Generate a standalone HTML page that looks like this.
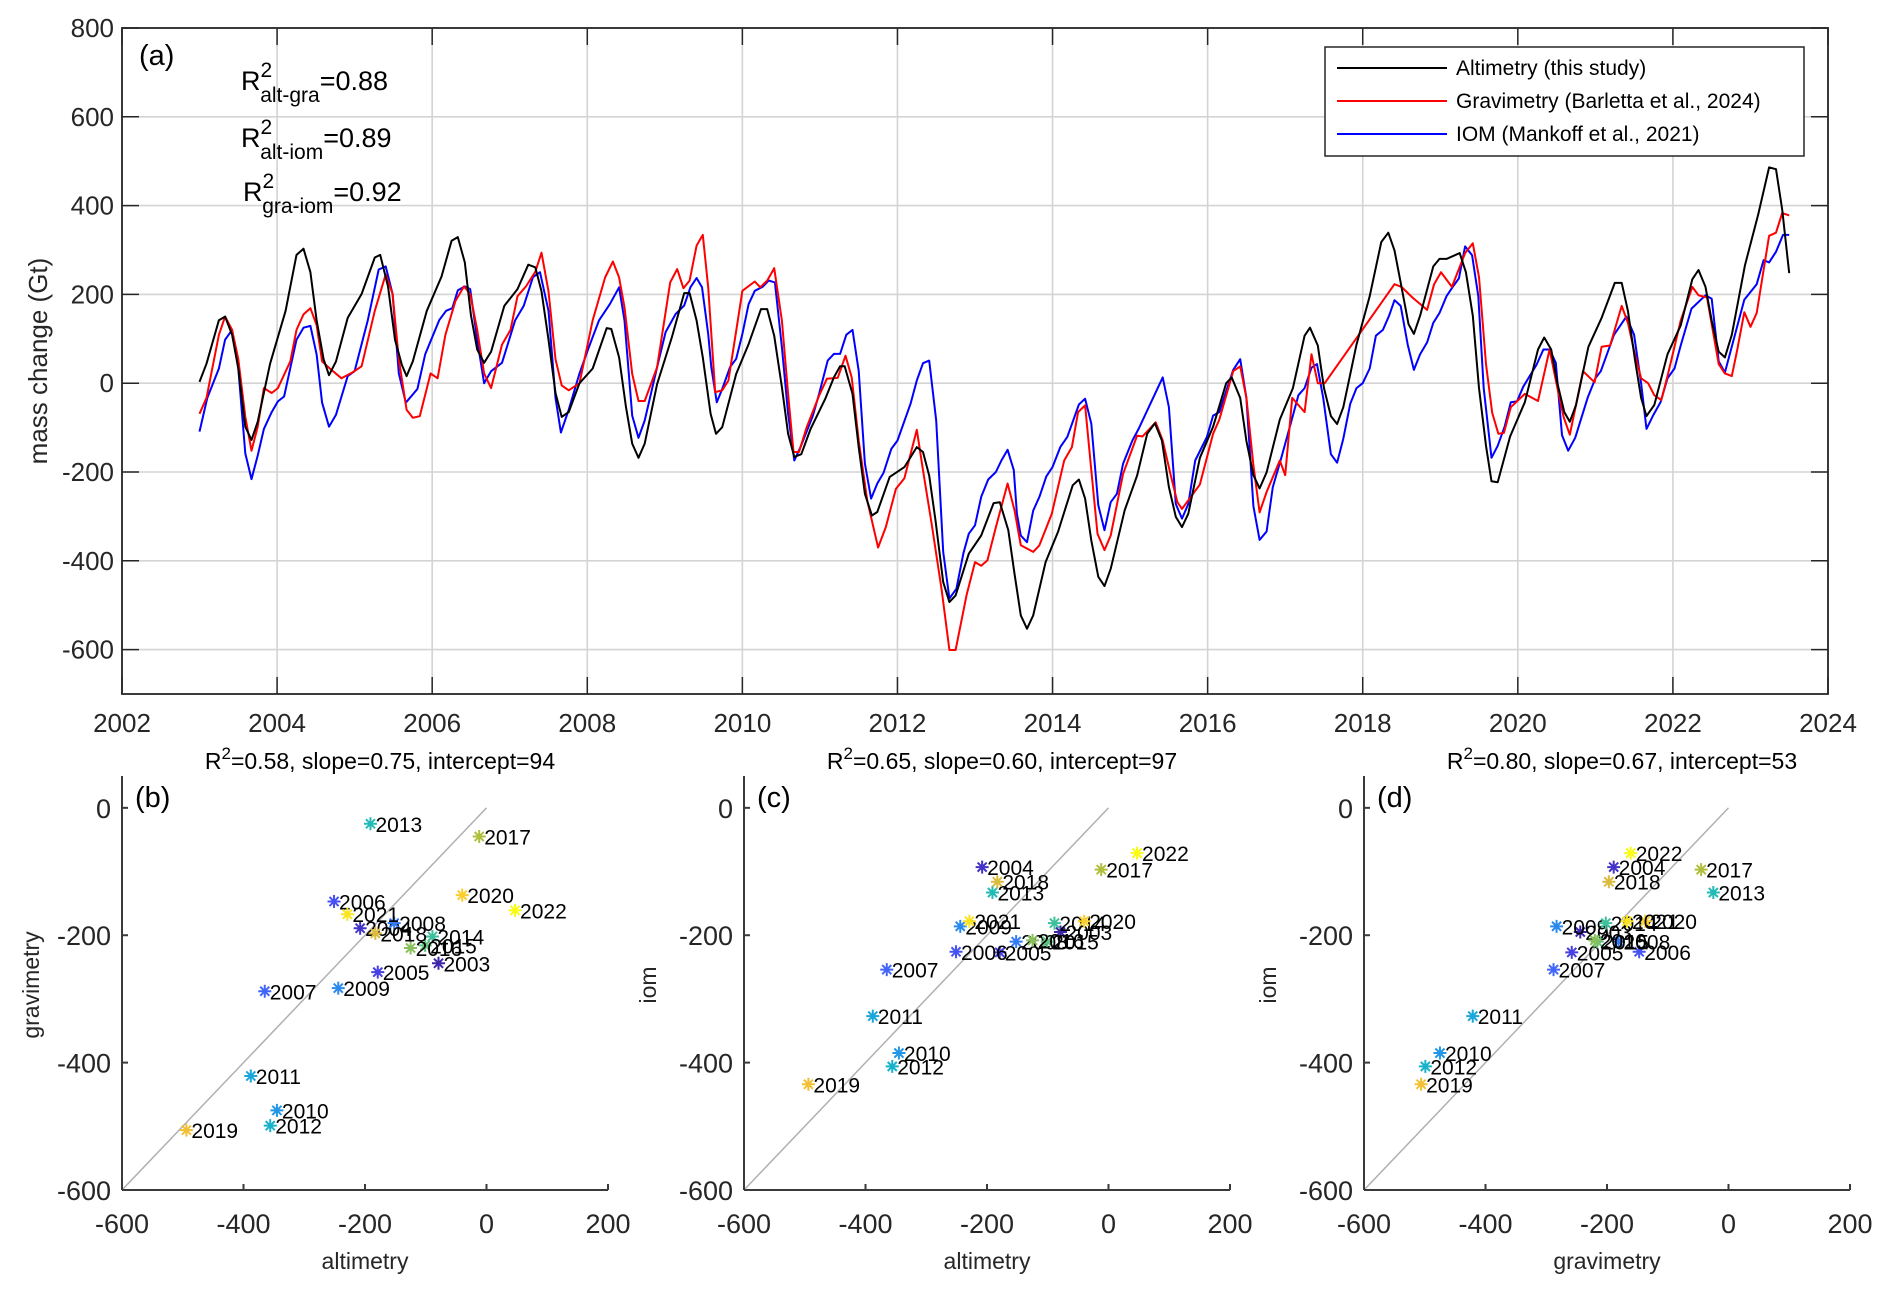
<!DOCTYPE html>
<html><head><meta charset="utf-8"><style>
html,body{margin:0;padding:0;background:#fff;}
svg{display:block;font-family:"Liberation Sans",Arial,sans-serif;}
</style></head><body>
<svg id="fig" width="1892" height="1293" viewBox="0 0 1892 1293" xmlns="http://www.w3.org/2000/svg"></svg>
<script>
// ---- time series data (year, Gt) ----
const altT=[2003.0,2003.09,2003.25,2003.33,2003.42,2003.5,2003.59,2003.67,2003.75,2003.91,2004.11,2004.25,2004.34,2004.43,2004.51,2004.6,2004.67,2004.76,2004.91,2005.09,2005.26,2005.33,2005.43,2005.52,2005.61,2005.67,2005.75,2005.93,2006.12,2006.25,2006.33,2006.42,2006.5,2006.58,2006.67,2006.76,2006.93,2007.1,2007.24,2007.33,2007.41,2007.5,2007.59,2007.67,2007.76,2007.9,2008.07,2008.25,2008.31,2008.41,2008.5,2008.58,2008.66,2008.74,2008.9,2009.09,2009.25,2009.32,2009.41,2009.49,2009.59,2009.66,2009.74,2009.92,2010.08,2010.24,2010.32,2010.41,2010.51,2010.59,2010.67,2010.76,2010.88,2011.07,2011.18,2011.26,2011.32,2011.42,2011.5,2011.58,2011.67,2011.74,2011.9,2012.09,2012.25,2012.33,2012.41,2012.49,2012.59,2012.67,2012.75,2012.92,2013.08,2013.24,2013.32,2013.43,2013.51,2013.59,2013.67,2013.75,2013.91,2014.07,2014.26,2014.34,2014.42,2014.5,2014.59,2014.67,2014.75,2014.93,2015.09,2015.22,2015.32,2015.41,2015.5,2015.59,2015.67,2015.75,2015.9,2016.07,2016.24,2016.31,2016.42,2016.5,2016.59,2016.67,2016.76,2016.93,2017.1,2017.25,2017.32,2017.42,2017.5,2017.59,2017.67,2017.75,2017.92,2018.09,2018.24,2018.33,2018.41,2018.5,2018.59,2018.66,2018.74,2018.91,2018.99,2019.08,2019.25,2019.33,2019.42,2019.5,2019.59,2019.66,2019.74,2019.9,2020.09,2020.26,2020.34,2020.43,2020.51,2020.6,2020.67,2020.75,2020.91,2021.08,2021.25,2021.34,2021.42,2021.51,2021.59,2021.66,2021.76,2021.93,2022.1,2022.25,2022.33,2022.42,2022.5,2022.59,2022.67,2022.76,2022.93,2023.1,2023.24,2023.33,2023.41,2023.5];
const altV=[3,44,142,150,109,33,-98,-128,-87,44,163,289,303,250,142,54,18,49,147,201,283,289,218,98,41,16,49,163,240,321,329,272,152,76,46,71,174,212,267,261,207,98,-22,-76,-65,0,33,124,122,58,-54,-136,-168,-136,-2,103,203,203,141,58,-69,-114,-99,21,88,167,167,107,-9,-114,-166,-160,-103,-35,13,38,38,-24,-144,-249,-298,-290,-211,-189,-144,-155,-208,-309,-448,-493,-478,-384,-343,-270,-268,-331,-429,-523,-553,-523,-403,-335,-230,-217,-260,-354,-436,-457,-418,-286,-208,-114,-90,-129,-234,-301,-324,-294,-168,-98,0,13,-33,-130,-207,-237,-201,-82,-11,107,125,85,-11,-74,-92,-54,87,196,318,339,299,217,133,111,152,263,280,280,293,250,152,-11,-141,-221,-223,-120,-43,76,103,76,0,-65,-87,-49,82,147,226,226,163,54,-33,-74,-49,65,130,234,255,217,141,71,58,109,266,380,486,482,391,248];
const graT=[2003.0,2003.09,2003.25,2003.33,2003.42,2003.5,2003.59,2003.67,2003.75,2003.83,2003.93,2004.01,2004.17,2004.25,2004.34,2004.43,2004.51,2004.58,2004.68,2004.83,2004.97,2005.09,2005.26,2005.4,2005.49,2005.57,2005.67,2005.75,2005.84,2005.98,2006.07,2006.17,2006.3,2006.41,2006.49,2006.58,2006.67,2006.76,2006.9,2007.01,2007.1,2007.21,2007.33,2007.41,2007.5,2007.59,2007.67,2007.76,2007.9,2008.07,2008.23,2008.33,2008.41,2008.48,2008.58,2008.66,2008.74,2008.9,2009.07,2009.16,2009.24,2009.32,2009.41,2009.49,2009.56,2009.65,2009.74,2009.82,2009.92,2010.0,2010.16,2010.23,2010.32,2010.41,2010.51,2010.59,2010.66,2010.73,2010.83,2010.99,2011.09,2011.23,2011.33,2011.41,2011.5,2011.61,2011.75,2011.85,2011.98,2012.09,2012.25,2012.33,2012.44,2012.57,2012.67,2012.75,2012.89,2013.0,2013.08,2013.16,2013.27,2013.42,2013.51,2013.59,2013.75,2013.83,2013.99,2014.15,2014.25,2014.33,2014.42,2014.5,2014.58,2014.67,2014.75,2014.91,2015.09,2015.16,2015.33,2015.42,2015.52,2015.61,2015.67,2015.75,2015.9,2016.07,2016.15,2016.33,2016.42,2016.5,2016.59,2016.67,2016.76,2016.93,2017.0,2017.09,2017.25,2017.34,2017.42,2017.51,2018.41,2018.5,2018.64,2018.83,2018.92,2019.01,2019.15,2019.32,2019.42,2019.5,2019.59,2019.67,2019.75,2019.82,2019.91,2020.09,2020.26,2020.41,2020.51,2020.59,2020.67,2020.75,2020.84,2020.99,2021.08,2021.19,2021.34,2021.42,2021.51,2021.59,2021.68,2021.76,2021.85,2021.93,2022.1,2022.25,2022.33,2022.44,2022.59,2022.67,2022.76,2022.83,2022.92,2023.0,2023.08,2023.24,2023.33,2023.41,2023.5];
const graV=[-69,-33,109,150,120,54,-76,-152,-98,-11,-22,-11,49,120,155,169,131,49,33,11,24,38,163,245,201,54,-60,-78,-74,22,11,109,185,218,201,120,22,-11,87,120,196,218,251,294,207,54,-5,-16,0,142,238,274,238,171,21,-40,-40,36,227,257,214,231,310,334,216,-20,-16,6,118,208,229,216,231,259,141,-24,-155,-155,-99,-28,10,12,62,13,-129,-264,-370,-324,-238,-214,-105,-196,-316,-466,-601,-601,-478,-403,-411,-399,-324,-226,-286,-365,-380,-365,-294,-174,-144,-65,-50,-196,-339,-376,-343,-204,-118,-120,-88,-129,-204,-268,-283,-264,-228,-114,-82,27,38,-33,-185,-291,-245,-174,-207,-33,-65,65,0,0,223,217,193,165,223,250,217,293,315,239,43,-67,-114,-112,-54,-24,-40,76,-11,-76,-116,-49,27,2,82,85,174,136,65,11,0,-27,-38,16,141,217,198,193,43,22,16,76,160,127,158,332,339,383,378];
const iomT=[2003.0,2003.1,2003.25,2003.33,2003.42,2003.5,2003.59,2003.67,2003.75,2003.83,2003.93,2004.01,2004.09,2004.25,2004.34,2004.43,2004.51,2004.58,2004.67,2004.76,2004.91,2005.0,2005.17,2005.31,2005.4,2005.49,2005.57,2005.66,2005.81,2005.91,2006.09,2006.18,2006.26,2006.33,2006.42,2006.49,2006.58,2006.67,2006.76,2006.9,2007.07,2007.18,2007.3,2007.39,2007.5,2007.59,2007.66,2007.76,2007.9,2008.01,2008.15,2008.29,2008.41,2008.48,2008.58,2008.66,2008.74,2008.9,2009.01,2009.14,2009.25,2009.33,2009.41,2009.48,2009.56,2009.6,2009.67,2009.74,2009.84,2009.92,2010.0,2010.08,2010.16,2010.26,2010.34,2010.42,2010.51,2010.59,2010.67,2010.75,2010.91,2010.99,2011.1,2011.18,2011.26,2011.34,2011.42,2011.5,2011.58,2011.66,2011.74,2011.82,2011.92,2012.0,2012.17,2012.25,2012.33,2012.41,2012.5,2012.59,2012.67,2012.76,2012.85,2012.92,2013.0,2013.08,2013.17,2013.27,2013.34,2013.42,2013.5,2013.54,2013.59,2013.67,2013.75,2013.83,2013.92,2014.0,2014.1,2014.19,2014.34,2014.42,2014.5,2014.59,2014.67,2014.75,2014.83,2014.91,2015.03,2015.11,2015.42,2015.5,2015.59,2015.67,2015.75,2015.84,2015.99,2016.07,2016.15,2016.33,2016.42,2016.5,2016.59,2016.67,2016.76,2016.84,2016.95,2017.07,2017.17,2017.25,2017.34,2017.41,2017.49,2017.59,2017.67,2017.75,2017.84,2017.92,2018.0,2018.09,2018.17,2018.26,2018.34,2018.41,2018.49,2018.58,2018.66,2018.74,2018.83,2018.91,2018.99,2019.08,2019.16,2019.24,2019.32,2019.41,2019.49,2019.56,2019.66,2019.74,2019.83,2019.91,2019.99,2020.07,2020.24,2020.33,2020.41,2020.49,2020.57,2020.65,2020.74,2020.9,2021.0,2021.07,2021.24,2021.4,2021.5,2021.59,2021.66,2021.75,2021.84,2021.93,2022.02,2022.1,2022.24,2022.42,2022.5,2022.59,2022.67,2022.92,2023.08,2023.17,2023.24,2023.33,2023.42,2023.5];
const iomV=[-109,-33,33,98,120,33,-158,-216,-163,-103,-65,-41,-30,98,125,129,65,-44,-98,-71,16,27,142,256,263,201,22,-44,-13,65,142,163,169,209,218,212,98,0,27,46,142,174,239,250,163,-33,-111,-60,22,76,141,178,216,141,-73,-123,-84,36,115,156,175,216,237,216,111,36,-43,-13,36,55,111,178,208,217,231,227,81,-69,-174,-144,-73,-24,51,66,66,109,120,28,-181,-260,-226,-202,-148,-129,-46,6,45,51,-84,-380,-485,-463,-383,-339,-320,-256,-217,-200,-174,-150,-196,-294,-343,-358,-287,-256,-210,-189,-144,-121,-48,-35,-91,-275,-331,-268,-249,-181,-129,-103,13,-54,-272,-305,-272,-174,-121,-73,-65,30,54,-33,-277,-353,-334,-234,-168,-92,-27,-11,35,43,-33,-160,-179,-125,-46,-11,0,33,107,120,152,187,174,87,30,65,92,136,158,196,217,236,308,288,196,-11,-168,-141,-98,-43,-41,-8,41,76,76,46,-117,-152,-123,-33,11,27,109,150,109,0,-103,-71,-43,11,33,85,168,198,190,49,24,188,223,277,272,296,334,334];
const xTicks=[2002,2004,2006,2008,2010,2012,2014,2016,2018,2020,2022,2024];
const yTicks=[-600,-400,-200,0,200,400,600,800];
// ---- annual scatter data ----
const years=[2003,2004,2005,2006,2007,2008,2009,2010,2011,2012,2013,2014,2015,2016,2017,2018,2019,2020,2021,2022];
const altAnn=[-79,-208,-179,-251,-365,-152,-244,-345,-388,-356,-191,-89,-101,-125,-12,-183,-494,-40,-229,47];
const graAnn=[-244,-189,-258,-147,-288,-181,-283,-475,-421,-499,-25,-202,-216,-220,-45,-197,-506,-137,-167,-161];
const iomAnn=[-195,-93,-227,-226,-254,-210,-186,-385,-327,-406,-133,-181,-210,-208,-97,-116,-434,-178,-178,-71];
const sTicksX=[-600,-400,-200,0,200];
const sTicksY=[-600,-400,-200,0];

const NS='http://www.w3.org/2000/svg';
const svg=document.getElementById('fig');
function mk(tag,attrs,parent){const e=document.createElementNS(NS,tag);for(const k in attrs)e.setAttribute(k,attrs[k]);(parent||svg).appendChild(e);return e;}

// ===== Panel (a) =====
const A={l:122,r:1828,t:28,b:694,x0:2002,x1:2024,y0:-700,y1:800};
const ax=v=>A.l+(v-A.x0)/(A.x1-A.x0)*(A.r-A.l);
const ay=v=>A.b-(v-A.y0)/(A.y1-A.y0)*(A.b-A.t);
const gA=mk('g',{});


xTicks.forEach(t=>{
  const l=mk('line',{x1:ax(t),x2:ax(t),y1:A.t,y2:A.b,stroke:'#d4d4d4','stroke-width':1.6},gA);
  
  mk('line',{x1:ax(t),x2:ax(t),y1:A.b,y2:A.b-17,stroke:'#262626','stroke-width':1.5},gA);
  mk('line',{x1:ax(t),x2:ax(t),y1:A.t,y2:A.t+17,stroke:'#262626','stroke-width':1.5},gA);
  const tx=mk('text',{x:ax(t),y:732,'font-size':26,'text-anchor':'middle',fill:'#262626'},gA);
  tx.textContent=t;
});
yTicks.forEach(t=>{
  const l=mk('line',{x1:A.l,x2:A.r,y1:ay(t),y2:ay(t),stroke:'#d4d4d4','stroke-width':1.6},gA);
  
  mk('line',{x1:A.l,x2:A.l+17,y1:ay(t),y2:ay(t),stroke:'#262626','stroke-width':1.5},gA);
  mk('line',{x1:A.r,x2:A.r-17,y1:ay(t),y2:ay(t),stroke:'#262626','stroke-width':1.5},gA);
  const tx=mk('text',{x:114,y:ay(t)+9,'font-size':26,'text-anchor':'end',fill:'#262626'},gA);
  tx.textContent=t;
});
const box=mk('rect',{x:A.l,y:A.t,width:A.r-A.l,height:A.b-A.t,fill:'none',stroke:'#262626','stroke-width':1.8},gA);

function series(T,V,color,name){
  const d=T.map((t,i)=>(i?'L':'M')+ax(t).toFixed(1)+','+ay(V[i]).toFixed(1)).join('');
  const p=mk('path',{d:d,fill:'none',stroke:color,'stroke-width':2,'stroke-linejoin':'round'},gA);
  
  
}
series(iomT,iomV,'#0000ff','iom-line');
series(graT,graV,'#ff0000','gravimetry-line');
series(altT,altV,'#000000','altimetry-line');
const yl=mk('text',{x:0,y:0,'font-size':26,'text-anchor':'middle',fill:'#262626',transform:'translate(47,361) rotate(-90)'},gA);
yl.textContent='mass change (Gt)';
const pa=mk('text',{x:139,y:65,'font-size':29,fill:'#000'},gA);
pa.textContent='(a)';
[['alt-gra','=0.88',90,241],['alt-iom','=0.89',147,241],['gra-iom','=0.92',201,243]].forEach(r=>{
  const t=mk('text',{x:r[3],y:r[2],'font-size':27,fill:'#000'},gA);
  
  t.innerHTML='R<tspan font-size="21" dy="-13">2</tspan><tspan font-size="21" dx="-12" dy="25">'+r[0]+'</tspan><tspan dy="-12">'+r[1]+'</tspan>';
});
// legend
const lg=mk('g',{});

mk('rect',{x:1325,y:47,width:479,height:109,fill:'#fff',stroke:'#262626','stroke-width':1.5},lg);
[['Altimetry (this study)','#000',68],['Gravimetry (Barletta et al., 2024)','#ff0000',101],['IOM (Mankoff et al., 2021)','#0000ff',134]].forEach(e=>{
  const g=mk('g',{},lg);
  
  mk('line',{x1:1337,x2:1447,y1:e[2],y2:e[2],stroke:e[1],'stroke-width':2},g);
  const t=mk('text',{x:1456,y:e[2]+7,'font-size':21,fill:'#000'},g);t.textContent=e[0];
});

// ===== Scatter panels =====
const pal=[[62,38,168],[70,60,220],[72,90,250],[50,125,245],[35,150,230],[20,175,210],[40,190,175],[100,195,125],[170,190,60],[240,186,58],[252,210,40],[249,251,20]];
function parula(f){const n=pal.length-1,p=f*n,i=Math.min(Math.floor(p),n-1),u=p-i;const c=pal[i].map((v,k)=>Math.round(v+(pal[i+1][k]-v)*u));return 'rgb('+c.join(',')+')';}
function scatter(opt){
  const S={l:opt.l,r:opt.l+486,t:776,b:1190,x0:-600,x1:200,y0:-600,y1:50};
  const sx=v=>S.l+(v-S.x0)/(S.x1-S.x0)*(S.r-S.l);
  const sy=v=>S.b-(v-S.y0)/(S.y1-S.y0)*(S.b-S.t);
  const g=mk('g',{});
  
  const ti=mk('text',{x:(S.l+S.r)/2+15,y:769,'font-size':23,'text-anchor':'middle',fill:'#000'},g);
  ti.innerHTML='R<tspan font-size="17" dy="-10">2</tspan><tspan dy="10">'+opt.title+'</tspan>';
  
  const dg=mk('line',{x1:sx(-600),y1:sy(-600),x2:sx(0),y2:sy(0),stroke:'#b0b0b0','stroke-width':1.5},g);
  
  mk('line',{x1:S.l,x2:S.l,y1:S.t,y2:S.b,stroke:'#3a3a3a','stroke-width':2},g);
  mk('line',{x1:S.l,x2:S.r,y1:S.b,y2:S.b,stroke:'#3a3a3a','stroke-width':2},g);
  sTicksX.forEach(t=>{mk('line',{x1:sx(t),x2:sx(t),y1:S.b,y2:S.b-6,stroke:'#3a3a3a','stroke-width':2},g);
    const tx=mk('text',{x:sx(t),y:1233,'font-size':27,'text-anchor':'middle',fill:'#262626'},g);tx.textContent=t;
    });
  sTicksY.forEach(t=>{mk('line',{x1:S.l,x2:S.l+6,y1:sy(t),y2:sy(t),stroke:'#3a3a3a','stroke-width':2},g);
    const tx=mk('text',{x:S.l-11,y:sy(t)+10,'font-size':27,'text-anchor':'end',fill:'#262626'},g);tx.textContent=t;
    });
  const xl=mk('text',{x:(S.l+S.r)/2,y:1269,'font-size':23,'text-anchor':'middle',fill:'#262626'},g);xl.textContent=opt.xl;
  
  const ylb=mk('text',{x:0,y:0,'font-size':23,'text-anchor':'middle',fill:'#262626',transform:'translate('+opt.ylx+',985) rotate(-90)'},g);ylb.textContent=opt.yl;
  
  const pl=mk('text',{x:S.l+13,y:807,'font-size':29,fill:'#000'},g);pl.textContent=opt.panel;
  
  years.forEach((yr,i)=>{
    const cx=sx(opt.X[i]),cy=sy(opt.Y[i]),c=parula(i/(years.length-1)),r=6.5;
    const m=mk('path',{d:`M${cx-r},${cy}H${cx+r}M${cx},${cy-r}V${cy+r}M${cx-r*0.7},${cy-r*0.7}L${cx+r*0.7},${cy+r*0.7}M${cx-r*0.7},${cy+r*0.7}L${cx+r*0.7},${cy-r*0.7}`,stroke:c,'stroke-width':2,fill:'none'},g);
    
    
    const t=mk('text',{x:cx+5,y:cy+8,'font-size':21,fill:'#000'},g);t.textContent=yr;
    
    
  });
}
scatter({name:'scatter-alt-gra',l:122,X:altAnn,Y:graAnn,title:'=0.58, slope=0.75, intercept=94',xl:'altimetry',yl:'gravimetry',ylx:39,panel:'(b)'});
scatter({name:'scatter-alt-iom',l:744,X:altAnn,Y:iomAnn,title:'=0.65, slope=0.60, intercept=97',xl:'altimetry',yl:'iom',ylx:656,panel:'(c)'});
scatter({name:'scatter-gra-iom',l:1364,X:graAnn,Y:iomAnn,title:'=0.80, slope=0.67, intercept=53',xl:'gravimetry',yl:'iom',ylx:1276,panel:'(d)'});
</script>
</body></html>
